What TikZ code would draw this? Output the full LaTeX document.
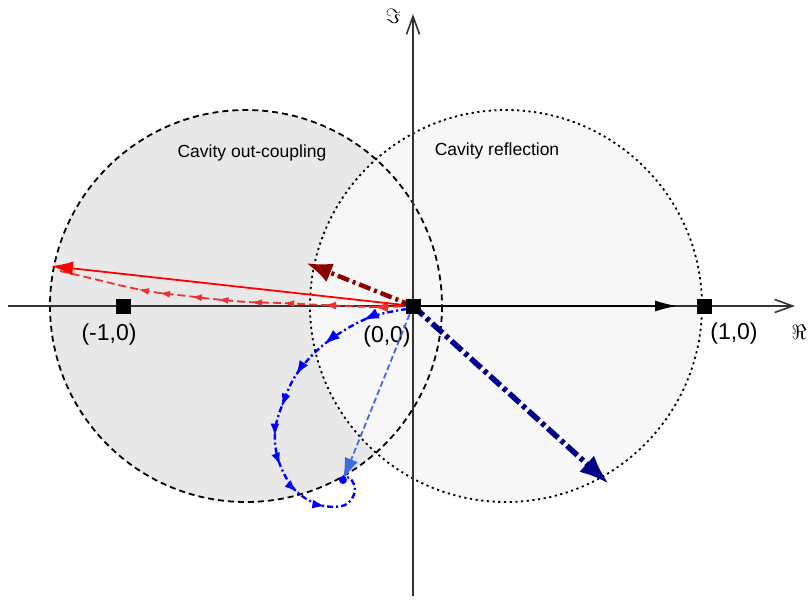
\documentclass[tikz,border=0pt]{standalone}
\usepackage{fontspec}
\setmainfont{Liberation Sans}
\usetikzlibrary{arrows.meta,decorations.markings}
\definecolor{outfill}{HTML}{E8E8E8}
\definecolor{reffill}{HTML}{F7F7F7}
\definecolor{axisgray}{HTML}{333333}
\definecolor{dred}{HTML}{8B0000}
\definecolor{dnavy}{HTML}{00008B}
\definecolor{royal}{HTML}{4169E1}
\definecolor{lred}{HTML}{F03030}
\begin{document}
\begin{tikzpicture}[x=1pt,y=-1pt,
  sq/.style={fill=black,minimum size=15pt,inner sep=0pt},
  coordlabel/.style={font=\fontsize{23}{26}\selectfont,inner sep=0pt},
  cavlabel/.style={font=\fontsize{17.5}{20}\selectfont,inner sep=0pt},
  axisline/.style={line width=1.6pt,draw=axisgray,-{Straight Barb[length=18pt,width=13pt,line width=1.6pt]}},
  outcircle/.style={draw=black,line width=1.8pt,dash pattern=on 6pt off 4pt},
  refcircle/.style={draw=black,line width=1.8pt,dash pattern=on 2.2pt off 3.5pt},
  incident/.style={draw=black,line width=1.2pt,-{Latex[length=22pt,width=11pt]}},
  redarrow/.style={draw=red,line width=1.8pt,-{Latex[length=22pt,width=14pt]}},
  darkredarrow/.style={draw=dred,line width=4.5pt,dash pattern=on 12pt off 4pt on 3pt off 4pt,-{Latex[length=26pt,width=20pt]}},
  navyarrow/.style={draw=dnavy,line width=5.5pt,dash pattern=on 14pt off 4pt on 4pt off 4pt,-{Latex[length=30pt,width=22pt]}},
  royalarrow/.style={draw=royal,line width=1.8pt,dash pattern=on 6pt off 3pt,-{Latex[length=22pt,width=14pt]}},
  redmarks/.style={postaction={decorate},decoration={markings,
    mark=at position 0.11 with {\arrow[lred]{Latex[length=14pt,width=10pt]}},
    mark=at position 0.25 with {\arrow[lred]{Latex[length=12pt,width=8pt]}},
    mark=at position 0.365 with {\arrow[lred]{Latex[length=11pt,width=7pt]}},
    mark=at position 0.455 with {\arrow[lred]{Latex[length=11pt,width=7pt]}},
    mark=at position 0.55 with {\arrow[lred]{Latex[length=11pt,width=7pt]}},
    mark=at position 0.625 with {\arrow[lred]{Latex[length=11pt,width=7pt]}},
    mark=at position 0.715 with {\arrow[lred]{Latex[length=11pt,width=7pt]}},
    mark=at position 0.775 with {\arrow[lred]{Latex[length=11pt,width=7pt]}}}},
  redcurve/.style={draw=lred,line width=1.8pt,dash pattern=on 8pt off 4pt,redmarks},
  bluemarks/.style={postaction={decorate},decoration={markings,
    mark=at position 0.13 with {\arrow[blue]{Latex[length=16pt,width=11pt]}},
    mark=at position 0.26 with {\arrow[blue]{Latex[length=16pt,width=11pt]}},
    mark=at position 0.38 with {\arrow[blue]{Latex[length=15pt,width=10pt]}},
    mark=at position 0.48 with {\arrow[blue]{Latex[length=14pt,width=9pt]}},
    mark=at position 0.565 with {\arrow[blue]{Latex[length=13pt,width=9pt]}},
    mark=at position 0.65 with {\arrow[blue]{Latex[length=13pt,width=9pt]}},
    mark=at position 0.74 with {\arrow[blue]{Latex[length=13pt,width=9pt]}},
    mark=at position 0.83 with {\arrow[blue]{Latex[length=13pt,width=9pt]}}}},
  bluecurve/.style={draw=blue,line width=2.4pt,dash pattern=on 6pt off 3pt on 2pt off 3pt,bluemarks}
]
\useasboundingbox (0,0) rectangle (810,599);
% key points
\coordinate (O) at (413,306);
\coordinate (Mone) at (123,306);
\coordinate (Pone) at (704,306);
\coordinate (lc) at (246,306);
\coordinate (rc) at (506,306);
\coordinate (xstart) at (8,306);
\coordinate (xend) at (795,306);
\coordinate (ystart) at (413,596);
\coordinate (yend) at (413,14);
\coordinate (iEnd) at (677,306);
\coordinate (rEnd) at (51,266);
\coordinate (drEnd) at (306,263);
\coordinate (nvEnd) at (609,484);
\coordinate (rbEnd) at (343,480);
\coordinate (bEnd) at (343,480);
\coordinate (rcEnd) at (60,271);
% circle fills
\fill[outfill] (lc) circle[radius=196];
\fill[reffill] (rc) circle[radius=196];
% circle borders
\draw[outcircle] (lc) circle[radius=196];
\draw[refcircle] (rc) circle[radius=196];
% axes
\draw[axisline] (xstart) -- (xend);
\draw[axisline] (ystart) -- (yend);
% labels
\node[cavlabel] (lcout) at (252,153) {Cavity out-coupling};
\node[cavlabel] (lcref) at (497,151) {Cavity reflection};
\node[coordlabel] (lm) at (109,335) {(-1,0)};
\node[coordlabel] (lo) at (387,337) {(0,0)};
\node[coordlabel] (lp) at (734,334) {(1,0)};
\node[inner sep=0pt,font=\fontsize{22}{24}\selectfont] (lIm) at (393,16) {$\Im$};
\node[inner sep=0pt,font=\fontsize{22}{24}\selectfont] (lRe) at (799,332) {$\Re$};
% arrows
\draw[incident] (O) -- (iEnd);
\draw[redcurve] plot[smooth,tension=0.6] coordinates {(O) (373,307) (323,305) (280,303) (247,302) (213,299) (187,296) (153,292) (123,286) (90,278) (rcEnd)};
\draw[redarrow] (O) -- (rEnd);
\draw[darkredarrow] (O) -- (drEnd);
\draw[navyarrow] (O) -- (nvEnd);
\draw[bluecurve] plot[smooth,tension=0.6] coordinates {(407,309) (368,318) (327,342) (298,372) (283,403) (275,432) (279,462) (295,490) (320,505) (345,505) (355,491) (350,478) (bEnd)};
\draw[royalarrow] (O) -- (rbEnd);
\fill[blue] (bEnd) circle[radius=4];
% squares
\node[sq] (sM) at (Mone) {};
\node[sq] (sO) at (O) {};
\node[sq] (sP) at (Pone) {};
\end{tikzpicture}
\end{document}
